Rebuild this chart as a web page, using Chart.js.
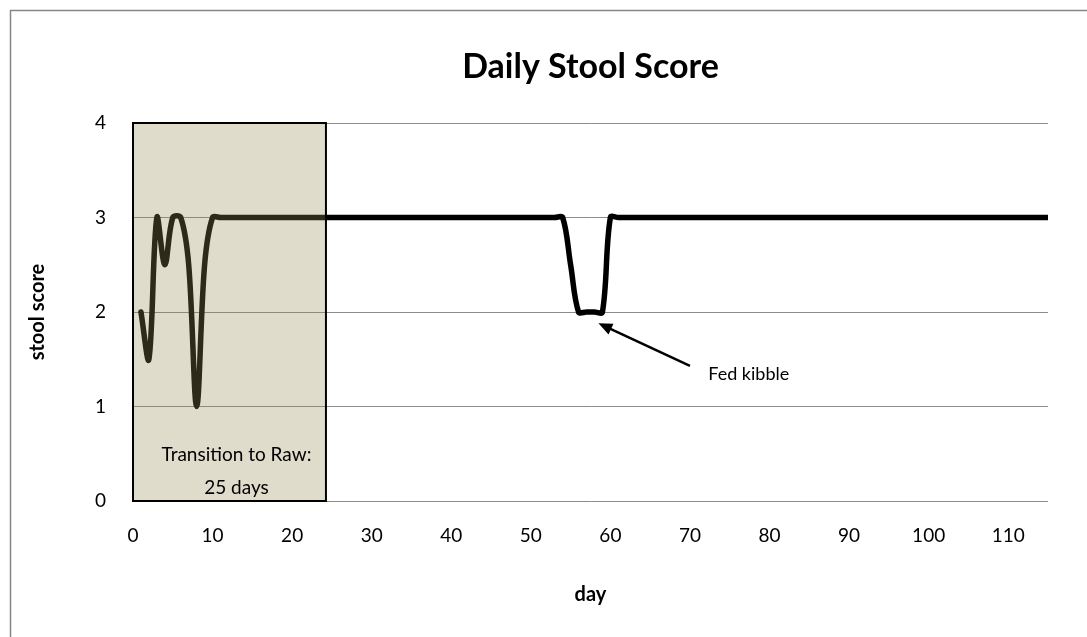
<!DOCTYPE html>
<html>
<head>
<meta charset="utf-8">
<title>Daily Stool Score</title>
<script src="https://cdn.jsdelivr.net/npm/chart.js@4.4.0/dist/chart.umd.min.js"></script>
<style>
  body { margin: 0; background: #fff; }
  #wrap { width: 1087px; height: 637px; }
</style>
</head>
<body>
<div id="wrap"><canvas id="chart" width="1087" height="637"></canvas></div>
<script>
// data
const days = [
  1, 2, 3, 4, 5, 6, 7, 8, 9, 10, 11, 12, 13, 14, 15, 16, 17, 18, 19, 20,
  21, 22, 23, 24, 25, 26, 27, 28, 29, 30, 31, 32, 33, 34, 35, 36, 37, 38, 39, 40,
  41, 42, 43, 44, 45, 46, 47, 48, 49, 50, 51, 52, 53, 54, 55, 56, 57, 58, 59, 60,
  61, 62, 63, 64, 65, 66, 67, 68, 69, 70, 71, 72, 73, 74, 75, 76, 77, 78, 79, 80,
  81, 82, 83, 84, 85, 86, 87, 88, 89, 90, 91, 92, 93, 94, 95, 96, 97, 98, 99, 100,
  101, 102, 103, 104, 105, 106, 107, 108, 109, 110, 111, 112, 113, 114, 115
];
const scores = [
  2, 1.5, 3, 2.5, 3, 3, 2.5, 1, 2.5, 3, 3, 3, 3, 3, 3, 3, 3, 3, 3, 3,
  3, 3, 3, 3, 3, 3, 3, 3, 3, 3, 3, 3, 3, 3, 3, 3, 3, 3, 3, 3,
  3, 3, 3, 3, 3, 3, 3, 3, 3, 3, 3, 3, 3, 3, 2.5, 2, 2, 2, 2, 3,
  3, 3, 3, 3, 3, 3, 3, 3, 3, 3, 3, 3, 3, 3, 3, 3, 3, 3, 3, 3,
  3, 3, 3, 3, 3, 3, 3, 3, 3, 3, 3, 3, 3, 3, 3, 3, 3, 3, 3, 3,
  3, 3, 3, 3, 3, 3, 3, 3, 3, 3, 3, 3, 3, 3, 3
];
const xTicks = [0, 10, 20, 30, 40, 50, 60, 70, 80, 90, 100, 110];
const yTicks = [0, 1, 2, 3, 4];

const transitionDays = [0, 24.25];
const transitionText = ['Transition to Raw:', '25 days'];
const noteText = 'Fed kibble';

Chart.defaults.font.family = 'Lato, "Open Sans", sans-serif';
Chart.defaults.color = '#000';

const frame = {
  id: 'frame',
  beforeDraw(chart) {
    const ctx = chart.ctx;
    ctx.save();
    ctx.fillStyle = '#fff';
    ctx.fillRect(0, 0, chart.width, chart.height);
    ctx.strokeStyle = '#868686';
    ctx.lineWidth = 1.5;
    ctx.strokeRect(10.5, 10.5, chart.width + 20, chart.height + 20);
    ctx.restore();
  }
};

// shaded transition box + kibble note, drawn on top of the line
const notes = {
  id: 'notes',
  afterDatasetsDraw(chart) {
    const ctx = chart.ctx;
    const x = chart.scales.x, y = chart.scales.y;
    const left = x.getPixelForValue(transitionDays[0]);
    const right = x.getPixelForValue(transitionDays[1]);
    const top = y.getPixelForValue(4), bottom = y.getPixelForValue(0);
    ctx.save();
    ctx.fillStyle = 'rgba(148, 138, 84, 0.3)';
    ctx.fillRect(left, top, right - left, bottom - top);
    ctx.strokeStyle = '#000';
    ctx.lineWidth = 2;
    ctx.strokeRect(left, top, right - left, bottom - top);

    ctx.fillStyle = '#000';
    ctx.font = '19px Lato, "Open Sans", sans-serif';
    ctx.textAlign = 'center';
    ctx.textBaseline = 'middle';
    const cx = (left + right) / 2 + 7;
    ctx.fillText(transitionText[0], cx, y.getPixelForValue(0.49));
    ctx.fillText(transitionText[1], cx, y.getPixelForValue(0.14));

    // arrow to the dip
    const tipX = x.getPixelForValue(58.5), tipY = y.getPixelForValue(1.88);
    const tailX = x.getPixelForValue(70), tailY = y.getPixelForValue(1.43);
    const ang = Math.atan2(tipY - tailY, tipX - tailX);
    const head = 15;
    ctx.strokeStyle = '#000';
    ctx.lineWidth = 2.5;
    ctx.beginPath();
    ctx.moveTo(tailX, tailY);
    ctx.lineTo(tipX - Math.cos(ang) * head * 0.8, tipY - Math.sin(ang) * head * 0.8);
    ctx.stroke();
    ctx.beginPath();
    ctx.moveTo(tipX, tipY);
    ctx.lineTo(tipX - head * Math.cos(ang - 0.4), tipY - head * Math.sin(ang - 0.4));
    ctx.lineTo(tipX - head * Math.cos(ang + 0.4), tipY - head * Math.sin(ang + 0.4));
    ctx.closePath();
    ctx.fill();

    ctx.font = '18px Lato, "Open Sans", sans-serif';
    ctx.textAlign = 'left';
    ctx.fillText(noteText, x.getPixelForValue(72.3), y.getPixelForValue(1.34));
    ctx.restore();
  }
};

new Chart(document.getElementById('chart'), {
  type: 'line',
  data: {
    datasets: [{
      label: 'stool score',
      data: days.map((d, i) => ({ x: d, y: scores[i] })),
      borderColor: '#000',
      borderWidth: 5.5,
      pointRadius: 0,
      tension: 0.35,
      borderCapStyle: 'round',
      borderJoinStyle: 'round',
      fill: false
    }]
  },
  options: {
    responsive: false,
    animation: false,
    layout: { padding: { left: 10, top: 10, right: 39, bottom: 0 } },
    plugins: {
      legend: { display: false },
      tooltip: { enabled: false },
      title: {
        display: true,
        text: 'Daily Stool Score',
        fullSize: false,
        font: { size: 34, weight: 'bold' },
        padding: { top: 37, bottom: 35.2 }
      }
    },
    scales: {
      x: {
        type: 'linear',
        min: 0,
        max: 115,
        afterBuildTicks: s => { s.ticks = xTicks.map(v => ({ value: v })); },
        afterFit: s => { s.height = 136; },
        grid: { display: false, drawTicks: false },
        border: { display: false },
        ticks: { padding: 23, font: { size: 19 }, maxRotation: 0, autoSkip: false },
        title: { display: true, text: 'day', font: { size: 20, weight: 'bold' }, padding: { top: 0, bottom: 30 } }
      },
      y: {
        min: 0,
        max: 4,
        afterBuildTicks: s => { s.ticks = yTicks.map(v => ({ value: v })); },
        afterFit: s => { s.width = 123; },
        grid: { color: '#8c8c8c', lineWidth: 1, drawTicks: false },
        border: { display: false },
        ticks: { padding: 27, font: { size: 19 } },
        title: { display: true, text: 'stool score', font: { size: 20, weight: 'bold' }, padding: { top: 16, bottom: 0 } }
      }
    }
  },
  plugins: [frame, notes]
});
</script>
</body>
</html>
